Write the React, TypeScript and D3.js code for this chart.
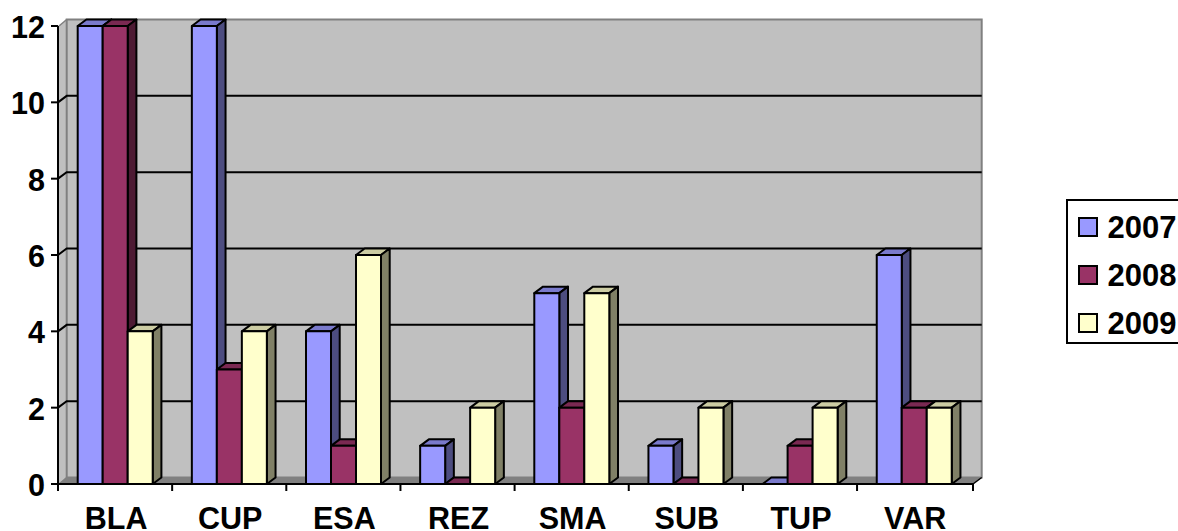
import React from "react";
import * as d3 from "d3";

const categories = ["BLA", "CUP", "ESA", "REZ", "SMA", "SUB", "TUP", "VAR"];
const seriesNames = ["2007", "2008", "2009"];
const values2007 = [12, 12, 4, 1, 5, 1, 0, 6];
const values2008 = [12, 3, 1, 0, 2, 0, 1, 2];
const values2009 = [4, 4, 6, 2, 5, 2, 2, 2];
const yTicks = [0, 2, 4, 6, 8, 10, 12];
const fronts = ["#9999ff", "#993366", "#ffffcc"];
const tops = ["#7a7acc", "#7a2952", "#cccca3"];
const sides = ["#4d4d80", "#4d1a33", "#808066"];

const DX = 8.7;
const DY = 6.5;
const FONT = "'Liberation Sans', Arial, sans-serif";

export default function App() {
  const x = d3.scaleBand<string>().domain(categories).range([58, 971.2]).paddingInner(0).paddingOuter(0);
  const y = d3.scaleLinear().domain([0, 12]).range([484, 26]);
  const allSeries = [values2007, values2008, values2009];
  const barW = 25;
  const offset = 19.7;
  const y0 = y(0);
  const yTop = y(12);
  const left = 58;
  const right = 973;

  return (
    <svg width={1178} height={531} style={{ position: "absolute", left: 0, top: 0, display: "block", background: "#fff" }} fontFamily={FONT}>
      {/* walls */}
      <polygon points={`${left},${yTop} ${left + DX},${yTop - DY} ${left + DX},${y0 - DY} ${left},${y0}`} fill="#c0c0c0" />
      <polygon points={`${left},${y0} ${left + DX},${y0 - DY} ${right + DX},${y0 - DY} ${right},${y0}`} fill="#808080" />
      <rect x={left + DX} y={yTop - DY} width={right - left} height={y0 - yTop} fill="#c0c0c0" stroke="#808080" strokeWidth={2} />
      <line x1={left + 1} y1={yTop} x2={left + DX} y2={yTop - DY} stroke="#808080" strokeWidth={1.5} />
      <line x1={left + 1} y1={y0} x2={left + DX} y2={y0 - DY} stroke="#808080" strokeWidth={1.5} />
      {/* gridlines */}
      {yTicks.filter((t) => t > 0 && t < 12).map((t) => (
        <polyline key={t} points={`${left},${y(t)} ${left + DX},${y(t) - DY} ${right + DX},${y(t) - DY}`} fill="none" stroke="#000" strokeWidth={2} />
      ))}
      {/* bars */}
      {categories.map((c, i) =>
        allSeries.map((vals, s) => {
          const xl = (x(c) as number) + offset + s * barW;
          const xr = xl + barW;
          const yv = y(vals[i]);
          return (
            <g key={c + s} stroke="#000" strokeWidth={2} strokeLinejoin="round">
              <polygon points={`${xl},${yv} ${xl + DX},${yv - DY} ${xr + DX},${yv - DY} ${xr},${yv}`} fill={tops[s]} />
              <polygon points={`${xr},${yv} ${xr + DX},${yv - DY} ${xr + DX},${y0 - DY} ${xr},${y0}`} fill={sides[s]} />
              {vals[i] > 0 && <rect x={xl} y={yv} width={barW} height={y0 - yv} fill={fronts[s]} />}
            </g>
          );
        })
      )}
      {/* axes */}
      <line x1={left} y1={yTop} x2={left} y2={y0 + 6} stroke="#000" strokeWidth={2} />
      <line x1={left - 7} y1={y0} x2={right} y2={y0} stroke="#000" strokeWidth={2} />
      <line x1={right} y1={y0} x2={right + DX} y2={y0 - DY} stroke="#000" strokeWidth={1.5} />
      {yTicks.map((t) => (
        <g key={t}>
          <line x1={left - 7} y1={y(t)} x2={left} y2={y(t)} stroke="#000" strokeWidth={2} />
          <text x={45} y={y(t) + 12} textAnchor="end" fontSize={30.5} fontWeight="bold" fill="#000">{t}</text>
        </g>
      ))}
      {categories.map((c) => (
        <g key={c}>
          <line x1={x(c) as number} y1={y0} x2={x(c) as number} y2={y0 + 7} stroke="#000" strokeWidth={2} />
          <text x={(x(c) as number) + x.bandwidth() / 2 + 1} y={529} textAnchor="middle" fontSize={30.5} fontWeight="bold" fill="#000">{c}</text>
        </g>
      ))}
      <line x1={right} y1={y0} x2={right} y2={y0 + 7} stroke="#000" strokeWidth={2} />
      {/* legend */}
      <rect x={1067} y={200} width={120} height={143} fill="#fff" stroke="#000" strokeWidth={2} />
      {seriesNames.map((n, i) => (
        <g key={n}>
          <rect x={1079} y={218 + i * 48} width={18} height={18} fill={fronts[i]} stroke="#000" strokeWidth={2} />
          <text x={1107.5} y={238 + i * 48} fontSize={31} fontWeight="bold" fill="#000">{n}</text>
        </g>
      ))}
    </svg>
  );
}
